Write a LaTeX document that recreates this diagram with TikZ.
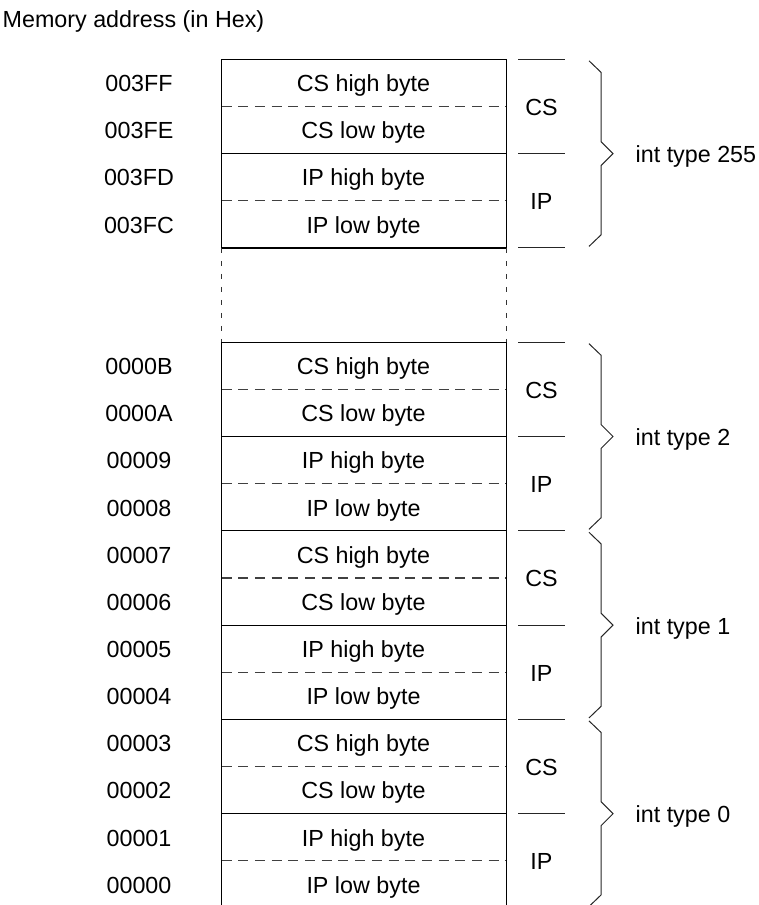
\documentclass[tikz,border=0pt]{standalone}
\usepackage{fontspec}
\setmainfont{Liberation Sans}
\begin{document}
\begin{tikzpicture}[x=1pt,y=-1pt,
  every node/.style={font=\fontsize{23.3}{28}\selectfont, inner sep=0pt},
  boxline/.style={line width=1.2pt, black},
  byteline/.style={line width=1.1pt, black!75, dash pattern=on 10pt off 6.7pt},
  gapline/.style={line width=1.1pt, black!80, dash pattern=on 5pt off 8pt},
  sideline/.style={line width=1pt, black!85},
  bracepath/.style={line width=1pt, black!85, line join=miter},
]
\useasboundingbox (0,0) rectangle (759,905);
\clip (0,0) rectangle (759,905);
\def\xL{221.5}
\def\xR{506.5}
\def\hh{47.15}
\def\yT{59.3}
\node[anchor=base west] (title) at (2.5,27) {Memory address (in Hex)};
% address labels and cell texts
\foreach \r/\a/\t in {0/003FF/CS high byte, 1/003FE/CS low byte, 2/003FD/IP high byte, 3/003FC/IP low byte,
  6/0000B/CS high byte, 7/0000A/CS low byte, 8/00009/IP high byte, 9/00008/IP low byte,
  10/00007/CS high byte, 11/00006/CS low byte, 12/00005/IP high byte, 13/00004/IP low byte,
  14/00003/CS high byte, 15/00002/CS low byte, 16/00001/IP high byte, 17/00000/IP low byte}{
  \pgfmathsetmacro\yc{\yT+\hh*(\r+0.5)+8.8}
  \node[anchor=base] (addr\r) at (139,\yc) {\a};
  \node[anchor=base] (cell\r) at (363.5,\yc) {\t};
}
% groups
\foreach \g/\r/\n in {a/0/255, b/6/2, c/10/1, d/14/0}{
  \pgfmathsetmacro\ya{\yT+\hh*\r}
  \pgfmathsetmacro\yb{\yT+\hh*(\r+1)}
  \pgfmathsetmacro\yc{\yT+\hh*(\r+2)}
  \pgfmathsetmacro\yd{\yT+\hh*(\r+3)}
  \pgfmathsetmacro\ye{\yT+\hh*(\r+4)}
  \draw[boxline] (\xL,\ya) -- (\xR,\ya) (\xL,\yc) -- (\xR,\yc) (\xL,\ye) -- (\xR,\ye);
  \draw[byteline] (\xL,\yb) -- (\xR,\yb) (\xL,\yd) -- (\xR,\yd);
  \draw[sideline] (518,\ya) -- (565,\ya) (518,\yc) -- (565,\yc) (518,\ye) -- (565,\ye);
  \node[anchor=base] (cs\g) at (541.5,\yb+8.8) {CS};
  \node[anchor=base] (ip\g) at (541.5,\yd+8.8) {IP};
  \draw[bracepath] (589,\ya+1.5) -- (601,\ya+13) -- (601,\yc-12) -- (613,\yc)
     -- (601,\yc+12) -- (601,\ye-13) -- (589,\ye-1.5);
  \node[anchor=base west] (int\g) at (635.5,\yc+9) {int type \n};
}
% verticals of the table
\draw[boxline] (\xL,59.3) -- (\xL,247.9) (\xR,59.3) -- (\xR,247.9)
  (\xL,342.2) -- (\xL,912) (\xR,342.2) -- (\xR,912);
\draw[gapline] (\xL,247.9) -- (\xL,342.2) (\xR,247.9) -- (\xR,342.2);
\end{tikzpicture}
\end{document}
